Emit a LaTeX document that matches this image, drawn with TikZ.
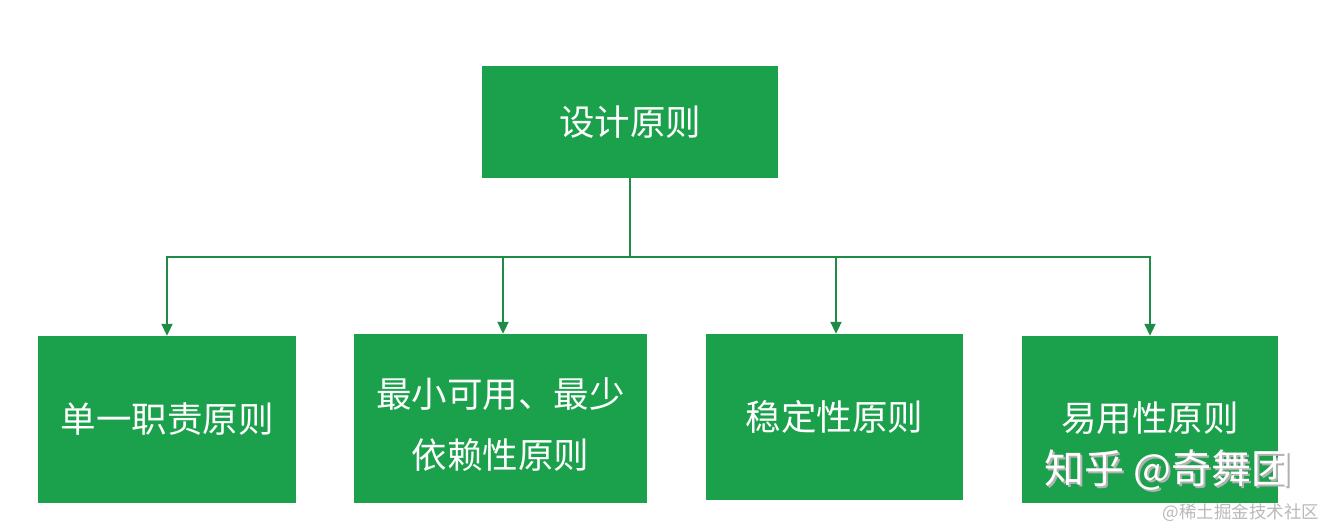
\documentclass[tikz,border=0pt]{standalone}
\usepackage{fontspec}
\setmainfont{Noto Sans CJK SC}
\newfontfamily\cjk{Noto Sans CJK SC}
\usetikzlibrary{arrows.meta}
\definecolor{boxgreen}{RGB}{27,160,75}
\definecolor{linegreen}{RGB}{30,140,70}
\definecolor{wmgray}{RGB}{185,185,185}
\tikzset{
  box/.style={draw=none, fill=boxgreen, text=white, inner sep=0pt, align=center,
    font=\cjk\fontsize{35.5}{61}\selectfont},
  conn/.style={draw=linegreen, line width=2pt, -{Triangle[width=11pt,length=12pt]}},
  stem/.style={draw=linegreen, line width=2pt},
}
\begin{document}
\begin{tikzpicture}[x=1pt,y=-1pt]
\fill[white] (0,0) rectangle (1328,530);
\useasboundingbox (0,0) rectangle (1328,530);
\node[box, minimum width=296pt, minimum height=112pt] (top) at (630,122) {设计原则};
\node[box, minimum width=258pt, minimum height=167pt] (b1) at (167,419.5) {单一职责原则};
\node[box, minimum width=293pt, minimum height=169pt] (b2) at (500.5,418.5) {};
\node[font=\cjk\fontsize{35.5}{61}\selectfont, text=white, inner sep=0pt, align=center] (t2) at (500.5,425) {最小可用、最少\\依赖性原则};
\node[box, minimum width=257pt, minimum height=166pt] (b3) at (834.5,417) {稳定性原则};
\node[box, minimum width=256pt, minimum height=167pt] (b4) at (1150,419.5) {};
\node[font=\cjk\fontsize{35.5}{40}\selectfont, text=white, inner sep=0pt] (t4) at (1150,418) {易用性原则};
\node[font=\cjk\fontsize{40}{48}\selectfont, text=gray!60, inner sep=0pt] (wms) at (1170,472) {知乎 @奇舞团};
\node[font=\cjk\fontsize{40}{48}\selectfont, text=white, inner sep=0pt] (wm) at (1168,470) {知乎 @奇舞团};
\node[font=\cjk\fontsize{17.5}{20}\selectfont, text=wmgray, inner sep=0pt] (jj) at (1241,513) {@稀土掘金技术社区};
\coordinate (j) at (630,257);
\draw[stem] (top.south) -- (j);
\draw[conn] (j) -| (b1.north);
\draw[conn] (j) -| ([xshift=2.5pt]b2.north);
\draw[conn] (j) -| ([xshift=1.5pt]b3.north);
\draw[conn] (j) -| (b4.north);
\end{tikzpicture}
\end{document}
